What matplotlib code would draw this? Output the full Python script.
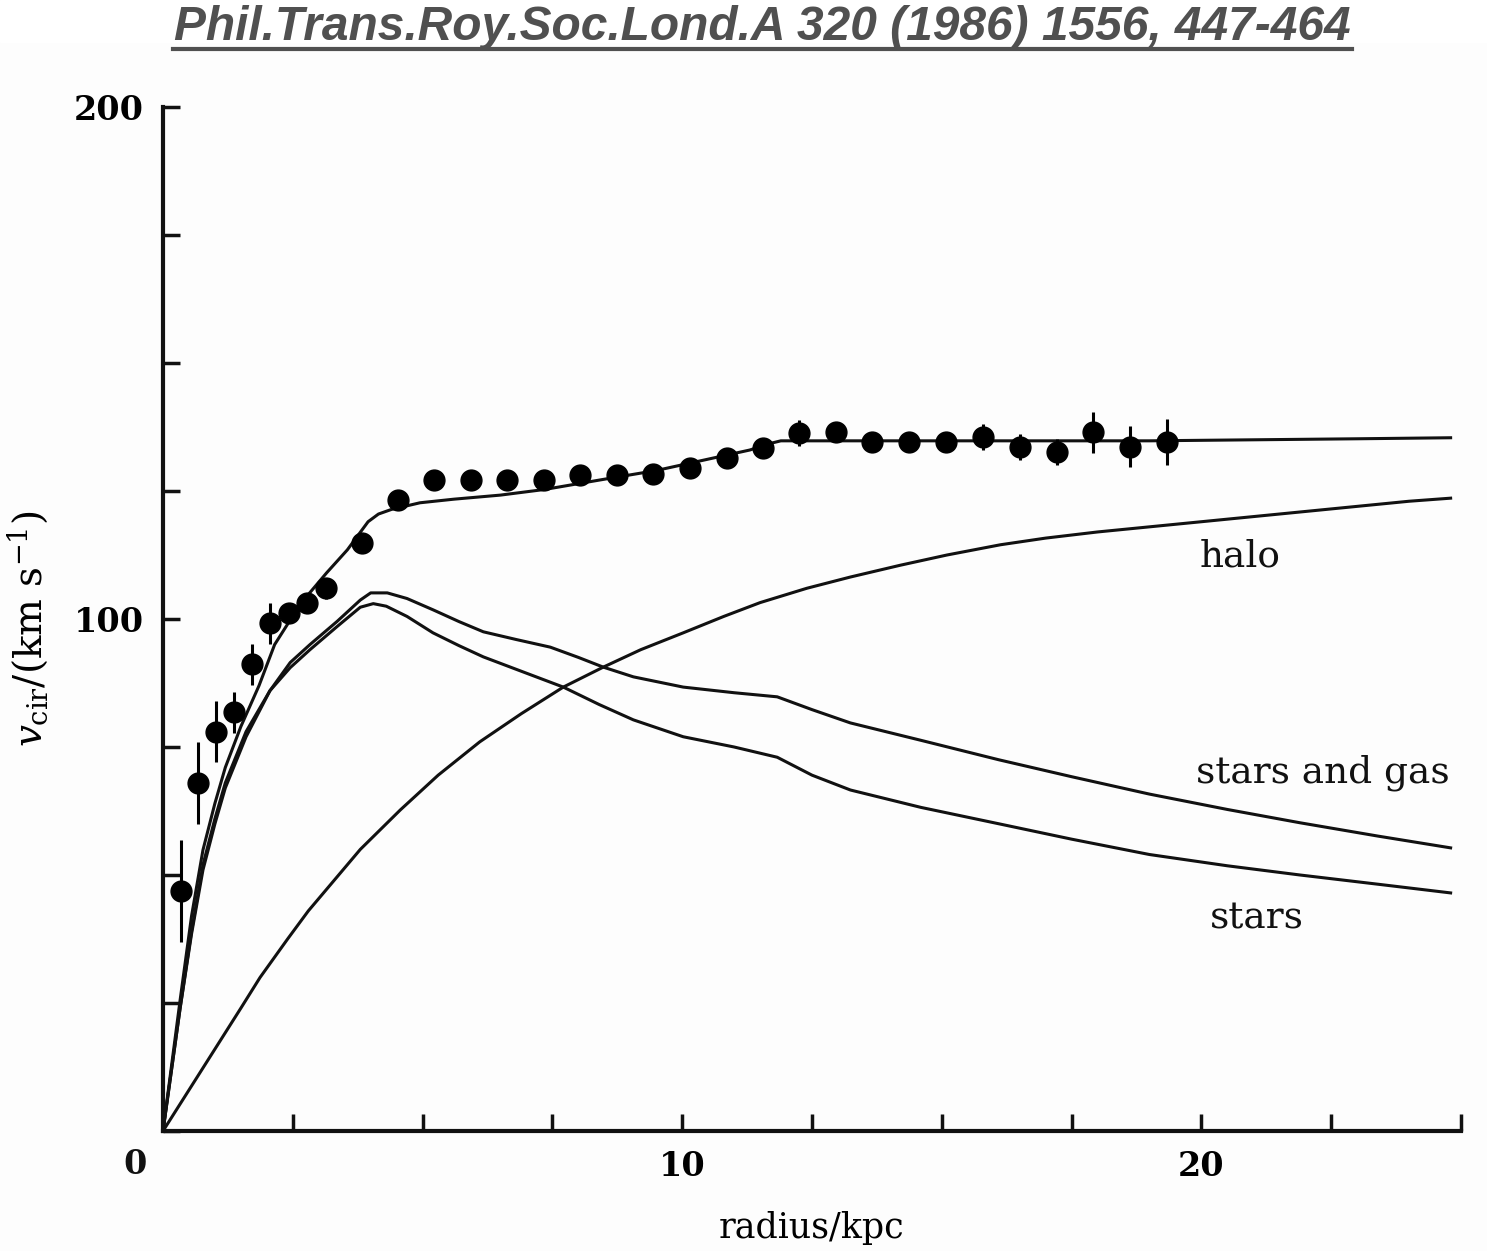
import matplotlib
matplotlib.use("Agg")
import matplotlib.pyplot as plt
from matplotlib.lines import Line2D
from matplotlib.patches import Rectangle

plt.rcParams["font.family"] = "DejaVu Serif"
plt.rcParams["mathtext.fontset"] = "dejavuserif"

# measured rotation velocities (kpc, km/s)
obs_r = [0.35, 0.67, 1.02, 1.37, 1.71, 2.06, 2.43, 2.77, 3.14, 3.83, 4.53,
         5.22, 5.93, 6.63, 7.34, 8.03, 8.75, 9.44, 10.15, 10.87, 11.56,
         12.25, 12.97, 13.66, 14.37, 15.09, 15.80, 16.51, 17.21, 17.92,
         18.63, 19.33]
obs_v = [46.9, 68.0, 78.0, 81.8, 91.2, 99.2, 101.2, 103.1, 106.0, 114.8, 123.2,
         127.1, 127.1, 127.1, 127.1, 128.1, 128.1, 128.3, 129.5, 131.4, 133.4,
         136.3, 136.5, 134.6, 134.6, 134.6, 135.5, 133.6, 132.6, 136.5,
         133.6, 134.6]
obs_err = [10, 8, 6, 4, 4, 4, 2, 2, 2, 2, 2,
           2, 2, 2, 2, 2, 2, 2, 2, 2, 2,
           2.5, 2, 2, 2, 2, 2.5, 2.5, 2.5, 4,
           4, 4.5]

# model curves
total_r = [0, 0.33, 0.55, 0.77, 1.0, 1.2, 1.5, 1.85, 2.15, 2.65, 3.15, 3.55,
           3.95, 4.15, 4.4, 4.95, 5.6, 6.5, 7.35, 8.5, 9.5, 10.4, 11.3, 11.7,
           11.9, 13, 15, 17, 19, 21, 23, 24.8]
total_v = [0, 25.6, 42, 54.9, 64, 71, 79, 87, 95, 103, 109, 113.5,
           119, 120.5, 121.4, 122.7, 123.4, 124.2, 125.3, 127.3, 129.0, 131,
           133, 134.3, 134.8, 134.8, 134.8, 134.8, 134.8, 135, 135.2, 135.4]

gas_r = [0, 0.33, 0.55, 0.77, 1.0, 1.2, 1.6, 2.06, 2.45, 2.83, 3.35, 3.8, 4.0,
         4.32, 4.7, 5.2, 5.7, 6.17, 6.8, 7.46, 8.0, 8.48, 9.06, 10.02, 11.0,
         11.83, 12.5, 13.24, 14.6, 16.1, 17.5, 19.0, 20.5, 21.9, 23.4, 24.8]
gas_v = [0, 24, 39, 52, 61, 68, 78, 86, 91.5, 95, 99.5, 103.7, 105.1,
         105.1, 104, 101.8, 99.5, 97.5, 96, 94.5, 92.5, 90.6, 88.7, 86.7, 85.6,
         84.8, 82.3, 79.7, 76.3, 72.5, 69.2, 65.8, 62.8, 60.2, 57.6, 55.3]

stars_r = [0, 0.33, 0.55, 0.77, 1.0, 1.2, 1.6, 2.06, 2.45, 2.83, 3.35, 3.8,
           4.05, 4.3, 4.7, 5.2, 5.7, 6.17, 6.9, 7.71, 8.4, 9.06, 10.02, 11.0,
           11.83, 12.5, 13.24, 14.6, 16.1, 17.5, 19.0, 20.5, 21.9, 23.4, 24.8]
stars_v = [0, 24, 38.5, 51, 60, 67, 77, 86, 90.5, 94, 98.5, 102.3,
           103, 102.5, 100.5, 97.3, 94.8, 92.6, 89.8, 86.7, 83.3, 80.3, 77, 75,
           73, 69.5, 66.6, 63.2, 60, 57, 54, 51.8, 50, 48.2, 46.5]

halo_r = [0, 0.5, 1.0, 1.5, 1.87, 2.4, 2.8, 3.3, 3.8, 4.57, 5.3, 6.1, 6.9,
          7.71, 8.48, 9.2, 10.02, 10.8, 11.5, 12.4, 13.24, 14.2, 15.1, 16.13,
          17, 18, 19, 20, 21, 22, 23, 24, 24.8]
halo_v = [0, 8, 16, 24, 30, 37.5, 43, 49, 55, 62.7, 69.5, 76, 81.5,
          86.7, 90.6, 94, 97.3, 100.5, 103.2, 106, 108.2, 110.5, 112.5, 114.5,
          115.8, 117, 118, 119, 120, 121, 122, 123, 123.6]

ink = "#111111"
bg = "#fdfdfd"

fig = plt.figure(figsize=(14.87, 12.51), dpi=100, facecolor=bg)
fig.patches.append(Rectangle((0, 1 - 42 / 1251), 1, 42 / 1251,
                             transform=fig.transFigure, color="white", zorder=0))
ax = fig.add_axes([163 / 1487, 120 / 1251, 1298 / 1487, 1024 / 1251])
ax.set_facecolor(bg)

for r, v in [(total_r, total_v), (gas_r, gas_v), (stars_r, stars_v), (halo_r, halo_v)]:
    ax.plot(r, v, color=ink, lw=2.2, solid_joinstyle="round")

ax.errorbar(obs_r, obs_v, yerr=obs_err, fmt="o", color="black", ms=15,
            elinewidth=2.2, capsize=0, zorder=5)

ax.text(20.75, 112.3, "halo", fontsize=27, ha="center", va="center", color=ink)
ax.text(22.33, 69.9, "stars and gas", fontsize=27, ha="center", va="center", color=ink)
ax.text(21.06, 41.6, "stars", fontsize=27, ha="center", va="center", color=ink)

ax.set_xlim(0, 25)
ax.set_ylim(0, 200)
for s in ["top", "right"]:
    ax.spines[s].set_visible(False)
for s in ["left", "bottom"]:
    ax.spines[s].set_linewidth(3)
    ax.spines[s].set_color(ink)

xt = [i * 2.5 for i in range(11)]
ax.set_xticks(xt)
ax.set_xticklabels(["10" if t == 10 else "20" if t == 20 else "" for t in xt])
yt = [i * 25 for i in range(9)]
ax.set_yticks(yt)
ax.set_yticklabels(["100" if t == 100 else "200" if t == 200 else "" for t in yt])
ax.tick_params(direction="in", length=12, width=2.5, color=ink, labelsize=24,
               pad=14)
for lab in ax.get_xticklabels() + ax.get_yticklabels():
    lab.set_fontweight("bold")
ax.text(-0.0216, -0.033, "0", transform=ax.transAxes, fontsize=24,
        fontweight="bold", ha="center", va="center", color=ink)

ax.set_xlabel("radius/kpc", fontsize=25, labelpad=20)
ax.set_ylabel(r"$v_{\rm cir}/({\rm km\ s^{-1}})$", fontsize=28,
              va="center", ha="center")
ax.yaxis.set_label_coords(-0.104, 0.49)

fig.text(762 / 1487, 1 - 27 / 1251, "Phil.Trans.Roy.Soc.Lond.A 320 (1986) 1556, 447-464",
         family=["Liberation Sans Narrow", "Liberation Sans"], fontsize=34.5,
         fontweight="bold", style="italic", color="#505050",
         ha="center", va="center")
fig.lines.append(Line2D([173 / 1487, 1352 / 1487], [1 - 49 / 1251, 1 - 49 / 1251],
                        transform=fig.transFigure, color="#505050", lw=3))

fig.savefig("out.png", dpi=100, facecolor=fig.get_facecolor())
